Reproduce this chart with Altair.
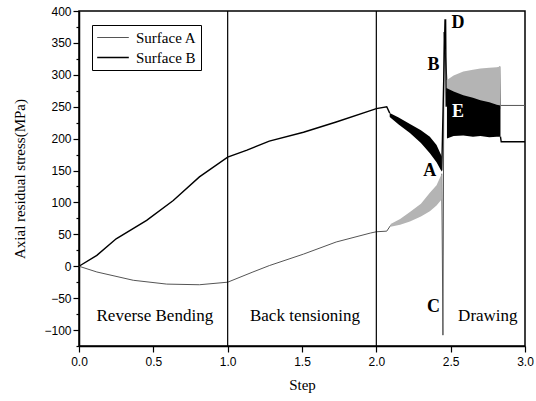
import altair as alt
import pandas as pd

# ---- Surface A line pieces (step, stress) ----
a_seg1_x = [0.0, 0.12, 0.365, 0.59, 0.81, 1.0, 1.17, 1.28, 1.51, 1.73, 1.96, 2.0, 2.07, 2.096]
a_seg1_y = [0, -9, -22, -28, -29, -25, -9, 1, 19, 38, 52, 54, 55, 64]
a_seg2_x = [2.44, 2.448, 2.455, 2.475]
a_seg2_y = [145, -108, 367, 292]
a_seg3_x = [2.83, 2.835, 3.0]
a_seg3_y = [313, 252, 252]

# ---- Surface B line pieces ----
b_seg1_x = [0.0, 0.12, 0.25, 0.455, 0.634, 0.81, 1.0, 1.13, 1.28, 1.51, 1.73, 1.96, 2.0, 2.07, 2.09]
b_seg1_y = [0, 17, 43, 72, 103, 140, 171, 182, 196, 210, 226, 244, 247, 250, 240]
b_seg2_x = [2.44, 2.462, 2.466, 2.47, 2.475]
b_seg2_y = [150, 386, 386, 250, 279]
b_seg3_x = [2.835, 2.84, 3.0]
b_seg3_y = [203, 195, 195]

# ---- oscillation envelopes (back tensioning -> drawing transition) ----
a_band1_x = [2.096, 2.16, 2.226, 2.30, 2.36, 2.405, 2.44]
a_band1_lo = [62, 65, 70, 78, 86, 95, 105]
a_band1_hi = [66, 74, 85, 98, 115, 127, 145]
b_band1_x = [2.09, 2.15, 2.226, 2.30, 2.36, 2.405, 2.44]
b_band1_lo = [234, 222, 209, 193, 177, 163, 148]
b_band1_hi = [240, 233, 223, 213, 203, 190, 172]

# ---- oscillation envelopes (drawing) ----
band2_x = [2.475, 2.52, 2.585, 2.65, 2.70, 2.76, 2.81, 2.835]
a_band2_hi = [292, 299, 305, 308, 310, 311, 312, 313]
b_band2_hi = [279, 274, 268, 264, 260, 257, 253, 252]
b_band2_lo = [200, 204, 205, 203, 204, 202, 203, 203]

# ---- stage boundaries ----
stage_x = [1.0, 2.0]

# ---- annotations ----
stage_labels = ["Reverse Bending", "Back tensioning", "Drawing"]
stage_lx = [0.51, 1.52, 2.75]
stage_ly = [-78, -78, -78]
letters = ["A", "B", "C", "D", "E"]
letter_x = [2.36, 2.385, 2.385, 2.55, 2.55]
letter_y = [150, 315, -64, 381, 242]
letter_col = ["black", "black", "black", "black", "white"]

# ---- axis ticks ----
x_ticks = [0, 0.25, 0.5, 0.75, 1.0, 1.25, 1.5, 1.75, 2.0, 2.25, 2.5, 2.75, 3.0]
y_major = [-100, -50, 0, 50, 100, 150, 200, 250, 300, 350, 400]
y_minor = [-125, -75, -25, 25, 75, 125, 175, 225, 275, 325, 375]

SERIF = "Liberation Serif"
SANS = "Liberation Sans"

rows = []
def add(series, seg, xs, ys):
    for x, y in zip(xs, ys):
        rows.append({"series": series, "seg": seg, "step": x, "stress": y})

add("Surface A", "a1", a_seg1_x, a_seg1_y)
add("Surface A", "a2", a_seg2_x, a_seg2_y)
add("Surface A", "a3", a_seg3_x, a_seg3_y)
add("Surface B", "b1", b_seg1_x, b_seg1_y)
add("Surface B", "b2", b_seg2_x, b_seg2_y)
add("Surface B", "b3", b_seg3_x, b_seg3_y)
lines_df = pd.DataFrame(rows)

brows = []
for x, lo, hi in zip(a_band1_x, a_band1_lo, a_band1_hi):
    brows.append({"band": "a1", "step": x, "stress": lo, "hi": hi, "fill": "#b4b4b4"})
for x, lo, hi in zip(band2_x, b_band2_hi, a_band2_hi):
    brows.append({"band": "a2", "step": x, "stress": lo - 6, "hi": hi, "fill": "#b4b4b4"})
for x, lo, hi in zip(b_band1_x, b_band1_lo, b_band1_hi):
    brows.append({"band": "b1", "step": x, "stress": lo, "hi": hi, "fill": "black"})
for x, lo, hi in zip(band2_x, b_band2_lo, b_band2_hi):
    brows.append({"band": "b2", "step": x, "stress": lo, "hi": hi, "fill": "black"})
bands_df = pd.DataFrame(brows)

xscale = alt.Scale(domain=[0, 3.0], nice=False, zero=False)
yscale = alt.Scale(domain=[-125, 400], nice=False, zero=False)

xaxis = alt.Axis(
    values=x_ticks,
    labelExpr="(round(datum.value*100) % 50) == 0 ? format(datum.value, '.1f') : ''",
    tickSize={"condition": {"test": "(round(datum.value*100) % 50) == 0", "value": 6}, "value": 3},
    title="Step", titleFont=SERIF, titleFontSize=15, titleFontWeight="normal", titlePadding=10,
    labelFont=SANS, labelFontSize=12, labelPadding=4, labelColor="black",
    labelFlush=False, labelOverlap=False,
)
yaxis = alt.Axis(
    values=y_major, format="d", tickSize=6,
    title="Axial residual stress(MPa)", titleFont=SERIF, titleFontSize=15, titleFontWeight="normal",
    titlePadding=16,
    labelFont=SANS, labelFontSize=12, labelPadding=2, labelColor="black",
    labelFlush=False, labelOverlap=False,
)
yaxis_minor = alt.Axis(
    values=y_minor, orient="left", labels=False, domain=False, tickSize=3, title=None,
    tickColor="black", tickWidth=1.2, offset=0,
)

lines = alt.Chart(lines_df).mark_line(interpolate="linear").encode(
    x=alt.X("step:Q", scale=xscale, axis=xaxis),
    y=alt.Y("stress:Q", scale=yscale, axis=yaxis),
    detail="seg:N",
    color=alt.Color(
        "series:N",
        scale=alt.Scale(domain=["Surface A", "Surface B"], range=["#555555", "#000000"]),
        legend=alt.Legend(
            title=None, orient="none", legendX=13, legendY=14,
            symbolType="stroke", symbolSize=1000, symbolStrokeWidth=1.5,
            labelFont=SERIF, labelFontSize=15, labelColor="black",
            strokeColor="black", padding=4, rowPadding=3, labelOffset=6,
            fillColor="white", clipHeight=17,
        ),
    ),
    strokeWidth=alt.StrokeWidth(
        "series:N",
        scale=alt.Scale(domain=["Surface A", "Surface B"], range=[1.0, 1.4]),
        legend=None,
    ),
    order=alt.Order("step:Q"),
)

minor = alt.Chart(pd.DataFrame({"step": stage_lx, "stress": stage_ly})).mark_point(opacity=0).encode(
    x=alt.X("step:Q", scale=xscale),
    y=alt.Y("stress:Q", scale=yscale, axis=yaxis_minor),
)

rules = alt.Chart(pd.DataFrame({"step": stage_x})).mark_rule(color="black", strokeWidth=1.2).encode(
    x=alt.X("step:Q", scale=xscale)
)

bands = alt.Chart(bands_df).mark_area(interpolate="linear").encode(
    x=alt.X("step:Q", scale=xscale),
    y=alt.Y("stress:Q", scale=yscale, axis=None),
    y2="hi:Q",
    fill=alt.Fill("fill:N", scale=None),
    detail="band:N",
)

stage_text = alt.Chart(pd.DataFrame({"t": stage_labels, "step": stage_lx, "stress": stage_ly})).mark_text(
    font=SERIF, fontSize=17, color="black", align="center", baseline="middle"
).encode(x=alt.X("step:Q", scale=xscale), y=alt.Y("stress:Q", scale=yscale, axis=None), text="t:N")

letter_text = alt.Chart(pd.DataFrame({"t": letters, "step": letter_x, "stress": letter_y, "c": letter_col})).mark_text(
    font=SERIF, fontSize=18, fontWeight="bold", align="center", baseline="middle"
).encode(
    x=alt.X("step:Q", scale=xscale), y=alt.Y("stress:Q", scale=yscale, axis=None), text="t:N",
    color=alt.Color("c:N", scale=None),
)

chart = alt.layer(lines, minor, bands, rules, stage_text, letter_text).resolve_scale(
    y="shared"
).resolve_axis(
    y="independent"
).properties(
    width=446, height=335,
    autosize=alt.AutoSizeParams(type="none"),
    padding={"left": 79, "top": 11, "right": 11, "bottom": 55},
    background="white",
).configure_view(
    stroke="black", strokeWidth=1.5
).configure_axis(
    domainColor="black", domainWidth=1.5, tickColor="black", tickWidth=1.2, grid=False,
)

chart.save("out.html", embed_options={"renderer": "svg", "actions": False})
